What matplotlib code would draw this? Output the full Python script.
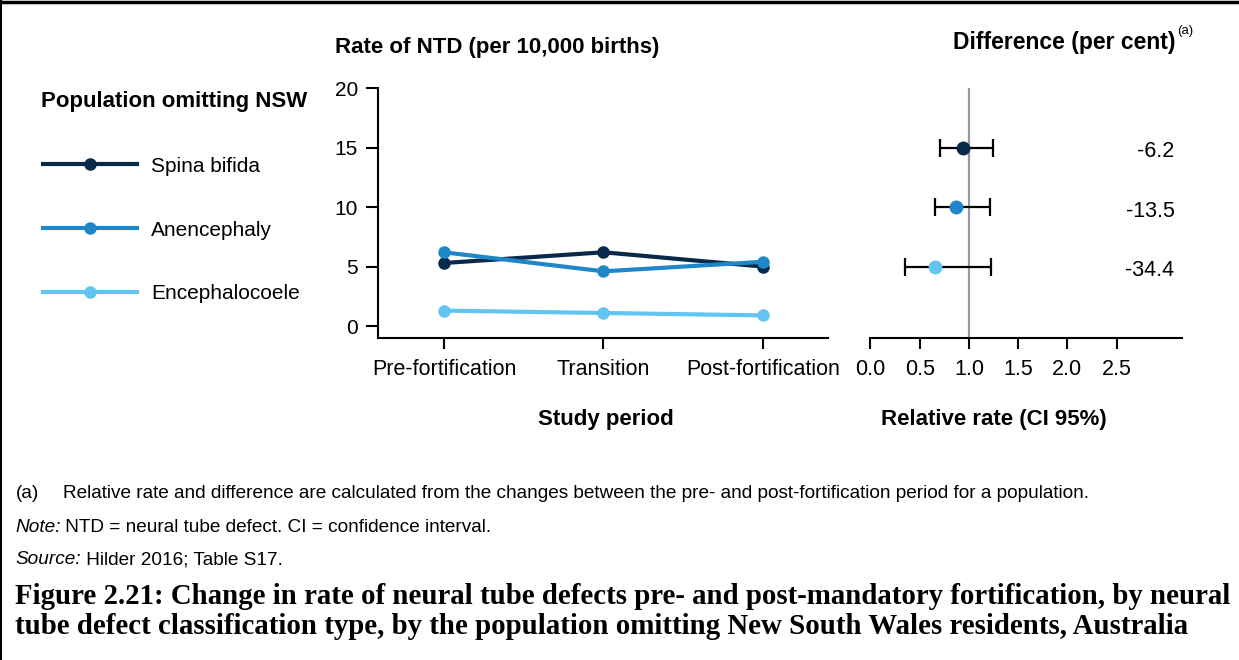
import matplotlib
matplotlib.use("Agg")
import matplotlib.pyplot as plt
from matplotlib.lines import Line2D
from matplotlib.text import Annotation

plt.rcParams['font.family'] = ['Liberation Sans', 'DejaVu Sans']

# Rates of NTD per 10,000 births, population omitting NSW
periods = ['Pre-fortification', 'Transition', 'Post-fortification']
defects = ['Spina bifida', 'Anencephaly', 'Encephalocoele']
rates = {
    'Spina bifida': [5.3, 6.2, 5.0],
    'Anencephaly': [6.2, 4.6, 5.4],
    'Encephalocoele': [1.3, 1.1, 0.9],
}
# Relative rate (post vs pre) with 95% CI, and per cent difference
rel_rate = [0.94, 0.87, 0.66]
ci_low = [0.71, 0.66, 0.35]
ci_high = [1.24, 1.21, 1.22]
diff_pct = ['-6.2', '-13.5', '-34.4']
row_pos = [15, 10, 5]

colors = ['#08294a', '#1f87c8', '#62c5f1']

W, H = 1239, 660
fig = plt.figure(figsize=(W / 100, H / 100), dpi=100)


def fx(px):
    return px / W


def fy(py):
    return 1 - py / H


# left panel: rates over the study periods
ax = fig.add_axes([fx(378), fy(338), fx(828 - 378), (338 - 88) / H])
x = range(len(periods))
handles = []
for name, c in zip(defects, colors):
    ln, = ax.plot(x, rates[name], color=c, lw=3, marker='o', ms=8,
                  solid_capstyle='butt')
    handles.append(ln)
ax.set_xlim(-0.414, 2.408)
ax.set_ylim(-1.0, 20)
ax.set_yticks([0, 5, 10, 15, 20])
ax.set_xticks(list(x))
ax.set_xticklabels(periods)
ax.spines[['top', 'right']].set_visible(False)
ax.spines['left'].set_bounds(-1.0, 20)
for s in ax.spines.values():
    s.set_linewidth(1.5)
ax.tick_params(axis='y', length=8.5, width=1.5, pad=6, labelsize=15)
ax.tick_params(axis='x', length=8, width=1.5, pad=7, labelsize=15.5)

# right panel: relative rate with CI
ax2 = fig.add_axes([fx(870), fy(338), fx(1182 - 870), (338 - 88) / H])
ax2.axvline(1.0, color='#999999', lw=1.6, zorder=1)
for i in range(len(defects)):
    ax2.errorbar(rel_rate[i], row_pos[i],
                 xerr=[[rel_rate[i] - ci_low[i]], [ci_high[i] - rel_rate[i]]],
                 fmt='none', ecolor='black', elinewidth=1.6, capsize=6.5,
                 capthick=1.6, zorder=2)
    ax2.plot(rel_rate[i], row_pos[i], 'o', color=colors[i], ms=9, zorder=3)
    ax2.text(3.09, row_pos[i] - 0.35, diff_pct[i], ha='right', va='center',
             fontsize=15.5)
ax2.set_xlim(-0.005, 3.165)
ax2.set_ylim(-1.0, 20)
ax2.set_xticks([0, 0.5, 1.0, 1.5, 2.0, 2.5])
ax2.set_xticklabels(['0.0', '0.5', '1.0', '1.5', '2.0', '2.5'])
ax2.set_yticks([])
ax2.spines[['top', 'right', 'left']].set_visible(False)
ax2.spines['bottom'].set_linewidth(1.5)
ax2.tick_params(axis='x', length=8, width=1.5, pad=7, labelsize=15.5)

# titles and axis labels
tfs = 16
fig.text(fx(335), fy(47), 'Rate of NTD (per 10,000 births)', fontsize=tfs,
         fontweight='bold', va='center', ha='left')
diff_title = fig.text(fx(953), fy(43), 'Difference (per cent)', fontsize=16.5,
                      fontweight='bold', va='center', ha='left')
fig.add_artist(Annotation('(a)', xy=(1, 0.75), xycoords=diff_title,
                          xytext=(1, 0), textcoords='offset points',
                          fontsize=9.5, va='bottom', ha='left'))
fig.text(fx(606), fy(420), 'Study period', fontsize=tfs, fontweight='bold',
         ha='center', va='center')
fig.text(fx(994), fy(420), 'Relative rate (CI 95%)', fontsize=tfs,
         fontweight='bold', ha='center', va='center')

# legend
leg = fig.legend(handles, defects, loc='upper left',
                 bbox_to_anchor=(fx(41), fy(91)),
                 title='Population omitting NSW',
                 title_fontproperties={'weight': 'bold', 'size': tfs},
                 alignment='left', frameon=False, fontsize=15,
                 handlelength=4.7, handletextpad=0.6, labelspacing=2.15,
                 borderpad=0, borderaxespad=0, numpoints=1)

# footnotes
fs = 13.7
fig.text(fx(16), fy(494), '(a)', fontsize=fs, va='center')
fig.text(fx(63), fy(494),
         'Relative rate and difference are calculated from the changes '
         'between the pre- and post-fortification period for a population.',
         fontsize=fs, va='center')
note = fig.text(fx(15), fy(528), 'Note:', fontsize=fs, style='italic',
                va='center')
fig.add_artist(Annotation(' NTD = neural tube defect. CI = confidence interval.',
                          xy=(1, 0.5), xycoords=note, fontsize=fs,
                          va='center', ha='left'))
src = fig.text(fx(15), fy(560), 'Source:', fontsize=fs, style='italic',
               va='center')
fig.add_artist(Annotation(' Hilder 2016; Table S17.', xy=(1, 0.5),
                          xycoords=src, fontsize=fs, va='center', ha='left'))

cap_kw = dict(fontsize=20.8, fontweight='bold', family='Liberation Serif',
              va='center', ha='left')
fig.text(fx(15), fy(597), 'Figure 2.21: Change in rate of neural tube defects '
         'pre- and post-mandatory fortification, by neural', **cap_kw)
fig.text(fx(15), fy(627), 'tube defect classification type, by the population '
         'omitting New South Wales residents, Australia', **cap_kw)

# frame lines along top and left edges
fig.add_artist(Line2D([0, 1], [fy(1.5), fy(1.5)], transform=fig.transFigure,
                      color='black', lw=2.5))
fig.add_artist(Line2D([fx(1), fx(1)], [0, 1], transform=fig.transFigure,
                      color='black', lw=1.5))

fig.savefig('out.png', dpi=100)
